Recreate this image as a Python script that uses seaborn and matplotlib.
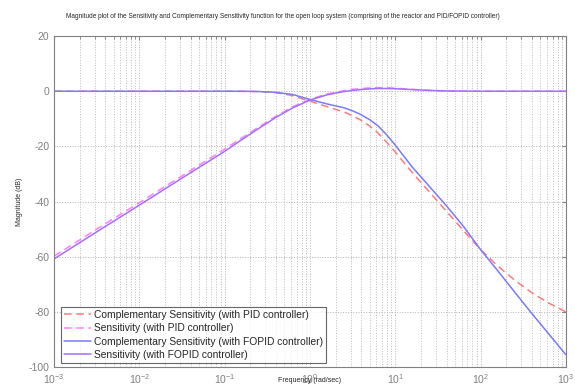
import numpy as np
import pandas as pd
import matplotlib
matplotlib.use('Agg')
import matplotlib.pyplot as plt
import seaborn as sns
from matplotlib.ticker import LogLocator, FixedLocator

freq = [0.001, 0.00316, 0.01, 0.0316, 0.1, 0.158, 0.251, 0.398, 0.631, 1.0,
        1.585, 2.512, 3.162, 3.981, 5.012, 6.31, 7.943, 10, 12.59, 15.85,
        25.12, 39.81, 63.1, 100, 158.5, 251.2, 398.1, 631, 1000]

# Magnitudes in dB
comp_sens_pid = [0, 0, 0, 0, 0, -0.05, -0.1, -0.5, -1.6, -3.6,
                 -5.6, -7.5, -8.9, -10.5, -12.6, -15.2, -18.5, -22, -25.8, -29.5,
                 -36.5, -43.5, -50.5, -57.4, -63.3, -68.5, -73, -76.8, -80]
sens_pid = [-59.8, -50, -40.4, -30.7, -21.0, -17, -13, -9.1, -5.6, -2.9,
            -1.0, 0.2, 0.7, 1.0, 1.2, 1.3, 1.25, 1.1, 0.9, 0.7,
            0.3, 0.1, 0.05, 0, 0, 0, 0, 0, 0]
comp_sens_fopid = [0, 0, 0, 0, 0, 0, -0.1, -0.4, -1.2, -3.0,
                   -4.6, -6.0, -7.1, -8.5, -10.3, -12.6, -15.8, -19.5, -23.5, -27.5,
                   -34.5, -41.5, -49, -57.4, -65, -72.8, -80.5, -88, -95.5]
sens_fopid = [-60.8, -51, -41.3, -31.5, -21.8, -17.6, -13.5, -9.5, -6.0, -3.2,
              -1.3, -0.1, 0.3, 0.6, 0.85, 1.0, 1.0, 0.9, 0.75, 0.6,
              0.3, 0.1, 0.05, 0, 0, 0, 0, 0, 0]

labels = ['Complementary Sensitivity (with PID controller)',
          'Sensitivity (with PID controller)',
          'Complementary Sensitivity (with FOPID controller)',
          'Sensitivity (with FOPID controller)']
colors = ['#ff7b7b', '#ff80ff', '#7a7aff', '#a070ff']
styles = [(0, (5, 3)), (0, (5, 3)), '-', '-']
series = [comp_sens_pid, sens_pid, comp_sens_fopid, sens_fopid]

sns.set_style('white')
plt.rcParams['font.family'] = ['Liberation Sans', 'DejaVu Sans']
plt.rcParams['axes.unicode_minus'] = False

fig = plt.figure(figsize=(5.75, 3.88), dpi=100)
ax = fig.add_axes([0.094, 0.054, 0.890, 0.853])

for lab, col, ls, vals in zip(labels, colors, styles, series):
    df = pd.DataFrame({'w': freq, 'mag': vals})
    sns.lineplot(data=df, x='w', y='mag', ax=ax, color=col, linewidth=1.1,
                 label=lab, sort=False)
    ax.lines[-1].set_linestyle(ls)

ax.set_xscale('log')
ax.set_xlim(1e-3, 1e3)
ax.set_ylim(-100, 20)
ax.yaxis.set_major_locator(FixedLocator([-100, -80, -60, -40, -20, 0, 20]))
ax.xaxis.set_major_locator(LogLocator(base=10, numticks=10))
ax.xaxis.set_minor_locator(LogLocator(base=10, subs=np.arange(2, 10), numticks=20))

ax.grid(True, which='major', linestyle=':', color='#b4b4b4', linewidth=0.7)
ax.grid(True, which='minor', axis='x', linestyle=':', color='#bcbcbc', linewidth=0.7)
ax.tick_params(axis='both', which='both', direction='in', top=True, right=True,
               colors='#808080', labelsize=7.5, length=3)
ax.tick_params(axis='both', which='minor', length=1.8)
for sp in ax.spines.values():
    sp.set_color('#808080')
    sp.set_linewidth(0.8)

ax.set_xlabel('Frequency (rad/sec)', fontsize=5)
ax.xaxis.set_label_coords(0.5, -0.03)
ax.set_ylabel('Magnitude (dB)', fontsize=5)
ax.yaxis.set_label_coords(-0.06, 0.5)

fig.text(0.492, 0.958, 'Magnitude plot of the Sensitivity and Complementary Sensitivity '
         'function for the open loop system (comprising of the reactor and PID/FOPID controller)',
         ha='center', va='center', fontsize=4.7)

leg = ax.legend(loc='lower left', bbox_to_anchor=(0.014, 0.012), fontsize=7.4,
                frameon=True, fancybox=False, handlelength=2.6, handletextpad=0.25,
                labelspacing=0.33, borderpad=0.3, borderaxespad=0.0)
leg.get_frame().set_edgecolor('#404040')
leg.get_frame().set_linewidth(0.8)
for h, ls in zip(leg.get_lines(), styles):
    h.set_linestyle(ls)

fig.savefig('out.png', dpi=100)
